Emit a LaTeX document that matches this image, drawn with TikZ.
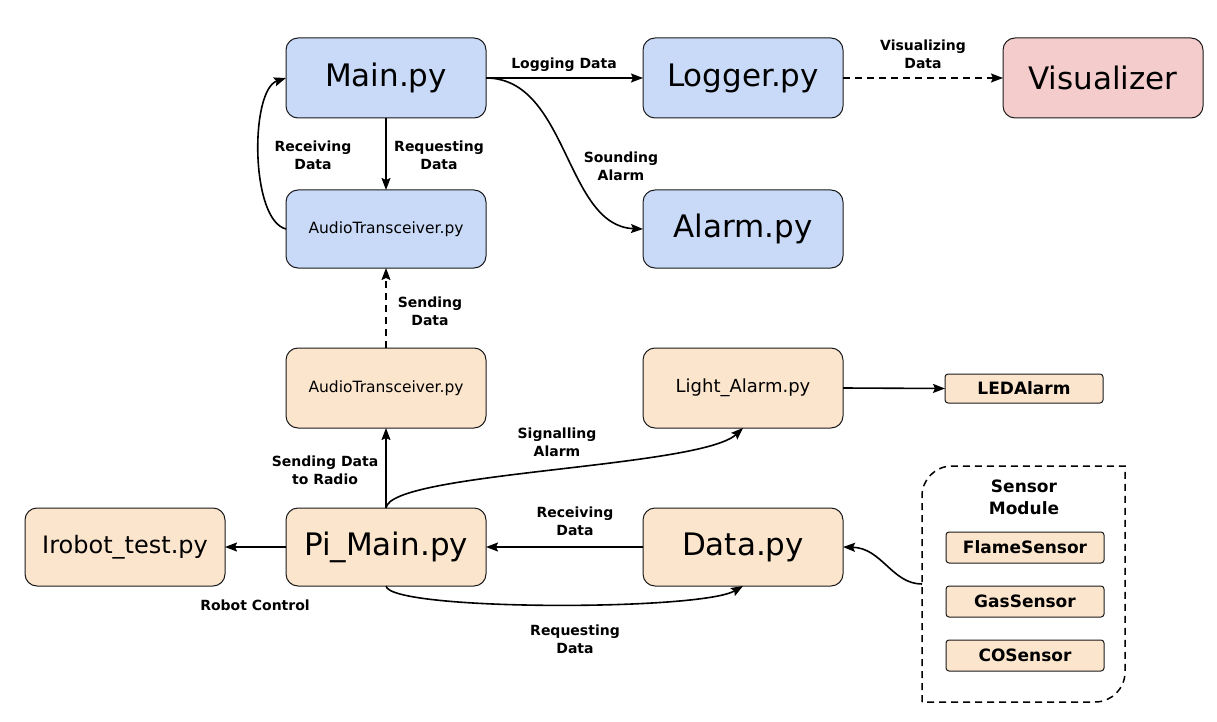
\documentclass[tikz,border=0pt]{standalone}
\usepackage{fontspec}
\setmainfont{DejaVu Sans}
\usetikzlibrary{arrows.meta}
\definecolor{bluef}{HTML}{C9DAF8}
\definecolor{orf}{HTML}{FCE5CD}
\definecolor{pinkf}{HTML}{F4CCCC}
\definecolor{edgec}{HTML}{1A1A1A}
\begin{document}
\begin{tikzpicture}[x=1pt,y=-1pt,
  box/.style={draw=edgec, line width=1pt, rounded corners=12pt, minimum width=200pt, minimum height=80pt, inner sep=0pt, outer sep=0pt, align=center},
  bluebox/.style={box, fill=bluef},
  orbox/.style={box, fill=orf},
  pinkbox/.style={box, fill=pinkf},
  big/.style={font=\fontsize{31}{36}\selectfont},
  medt/.style={font=\fontsize{15.5}{18}\selectfont},
  lbl/.style={font=\bfseries\fontsize{14}{18}\selectfont, align=center, inner sep=0pt},
  sbox/.style={draw=edgec, line width=1pt, fill=orf, rounded corners=3pt, minimum width=158pt, minimum height=30pt, inner sep=0pt, outer sep=0pt, font=\bfseries\fontsize{17}{20}\selectfont},
  arr/.style={draw=black, line width=1.6pt, -{Stealth[length=12pt,width=9pt,inset=2pt]}},
  dsh/.style={dash pattern=on 7pt off 5pt},
]
\useasboundingbox (0,0) rectangle (1217,722);

% top row
\node[bluebox, big] (main) at (386,78) {Main.py};
\node[bluebox, big] (logger) at (743,78) {Logger.py};
\node[pinkbox, big] (vis) at (1103,78) {Visualizer};
\node[bluebox, medt, minimum height=78pt] (atop) at (386,229) {AudioTransceiver.py};
\node[bluebox, big, minimum height=78pt] (alarm) at (743,229) {Alarm.py};

% middle
\node[orbox, medt] (abot) at (386,388) {AudioTransceiver.py};
\node[orbox, font=\fontsize{18}{21}\selectfont] (light) at (743,388) {Light\_Alarm.py};
\node[sbox, minimum height=29pt] (led) at (1024,388.5) {LEDAlarm};

% bottom row
\node[orbox, font=\fontsize{24}{28}\selectfont, minimum height=78pt] (irobot) at (125,547) {Irobot\_test.py};
\node[orbox, big, minimum height=78pt] (pimain) at (386,547) {Pi\_Main.py};
\node[orbox, big, minimum height=78pt] (data) at (743,547) {Data.py};

% sensor module
\draw[black, line width=1.5pt, dsh] (922,702) -- (922,496) .. controls (922,479.4) and (935.4,466) .. (952,466) -- (1125,466) -- (1125,672) .. controls (1125,688.6) and (1111.6,702) .. (1095,702) -- cycle;
\node[font=\bfseries\fontsize{17}{22}\selectfont, align=center, inner sep=0pt] (smt) at (1024,497) {Sensor\\Module};
\node[sbox, minimum height=31pt] (flame) at (1025,547.5) {FlameSensor};
\node[sbox, minimum height=31pt] (gas) at (1025,601.5) {GasSensor};
\node[sbox, minimum height=31pt] (co) at (1025,655.5) {COSensor};
\coordinate (smin) at (922,584);

% connectors
\draw[arr] (main.east) -- (logger.west);
\draw[arr, dsh] (logger.east) -- (vis.west);
\draw[arr] (main.south) -- (atop.north);
\draw[arr] (atop.west) .. controls (250,220) and (250,90) .. (main.west);
\draw[arr] (main.east) .. controls (568,78) and (565,226) .. (alarm.west);
\draw[arr, dsh] (abot.north) -- (atop.south);
\draw[arr] (pimain.north) -- (abot.south);
\draw[arr] (pimain.north) .. controls (390,472) and (700,468) .. (light.south);
\draw[arr] (light.east) -- (led.west);
\draw[arr] (data.west) -- (pimain.east);
\draw[arr] (pimain.west) -- (irobot.east);
\draw[arr] (pimain.south) .. controls (390,611) and (700,611) .. (data.south);
\draw[arr] (smin) .. controls (892,584) and (882,548) .. (data.east);

% labels
\node[lbl] (l1) at (564,65) {Logging Data};
\node[lbl] (l2) at (923,54) {Visualizing\\Data};
\node[lbl] (l3) at (313,155) {Receiving\\Data};
\node[lbl] (l4) at (439,155) {Requesting\\Data};
\node[lbl] (l5) at (621,166) {Sounding\\Alarm};
\node[lbl] (l6) at (430,311) {Sending\\Data};
\node[lbl] (l7) at (325,470) {Sending Data\\to Radio};
\node[lbl] (l8) at (557,442) {Signalling\\Alarm};
\node[lbl] (l9) at (575,521) {Receiving\\Data};
\node[lbl] (l10) at (575,639) {Requesting\\Data};
\node[lbl] (l11) at (255,605) {Robot Control};
\end{tikzpicture}
\end{document}
